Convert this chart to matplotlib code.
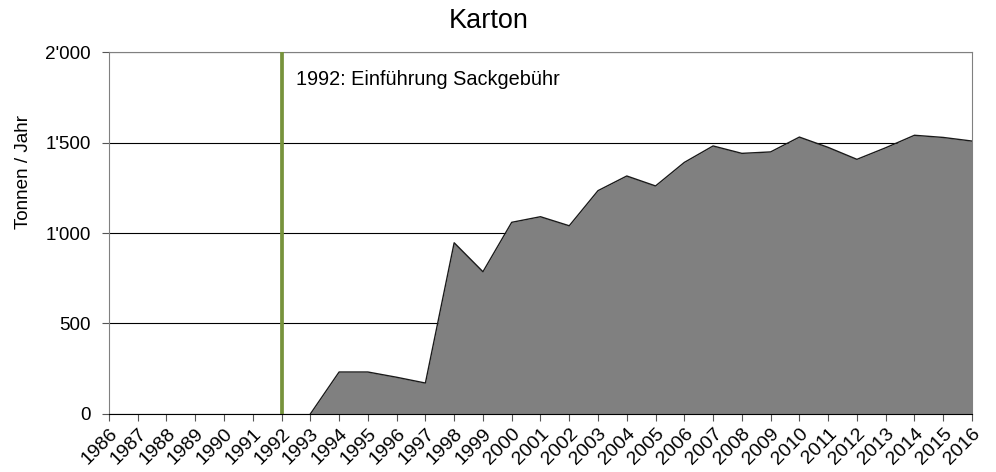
import matplotlib

matplotlib.use("Agg")
import matplotlib.pyplot as plt
from matplotlib.ticker import FuncFormatter

plt.rcParams["font.family"] = ["Liberation Sans", "DejaVu Sans"]

years = list(range(1986, 2017))
tonnes = [
    0, 0, 0, 0, 0, 0, 0, 0,        # 1986-1993
    232, 232, 203, 171, 946, 786,  # 1994-1999
    1059, 1090, 1040, 1234, 1315, 1260, 1390, 1481, 1440, 1448,  # 2000-2009
    1530, 1473, 1407, 1471, 1540, 1528, 1508,  # 2010-2016
]
y_ticks = [0, 500, 1000, 1500, 2000]
event_year = 1992
event_label = "1992: Einführung Sackgebühr"

fig = plt.figure(figsize=(9.96, 4.72), dpi=100)
ax = fig.add_axes([0.1094, 0.1229, 0.8665, 0.7669])

# area only starts once values appear
ax.fill_between(years, tonnes, 0, color="#808080", linewidth=0, zorder=2)
start = next(i for i, v in enumerate(tonnes) if v > 0) - 1
ax.plot(years[start:], tonnes[start:], color="#1a1a1a", linewidth=1.0, zorder=3)

ax.axvline(event_year, color="#77933C", linewidth=2.7, zorder=4)
ax.text(event_year + 0.5, 1850, event_label, fontsize=14.3, va="center", ha="left")

ax.set_xlim(years[0], years[-1])
ax.set_ylim(0, 2000)
ax.set_xticks(years)
ax.set_xticklabels([str(y) for y in years], rotation=45, ha="right",
                   rotation_mode="anchor", fontsize=14)
ax.set_yticks(y_ticks)
ax.yaxis.set_major_formatter(FuncFormatter(lambda v, _: f"{int(v):,}".replace(",", "'")))
ax.tick_params(axis="y", labelsize=13.6, length=5, color="#555555", pad=8)
ax.tick_params(axis="x", length=5, color="#555555", pad=3)

ax.grid(axis="y", color="black", linewidth=0.8, zorder=1)
ax.set_axisbelow(True)
for side in ["left", "right", "top"]:
    ax.spines[side].set_color("#808080")
ax.spines["bottom"].set_color("black")
ax.spines["bottom"].set_zorder(5)

ax.set_ylabel("Tonnen / Jahr", fontsize=13.6)
ax.yaxis.set_label_coords(-0.089, 0.668)
fig.text(0.491, 0.955, "Karton", fontsize=19.5, ha="center", va="center")

fig.savefig("out.png", dpi=100)
